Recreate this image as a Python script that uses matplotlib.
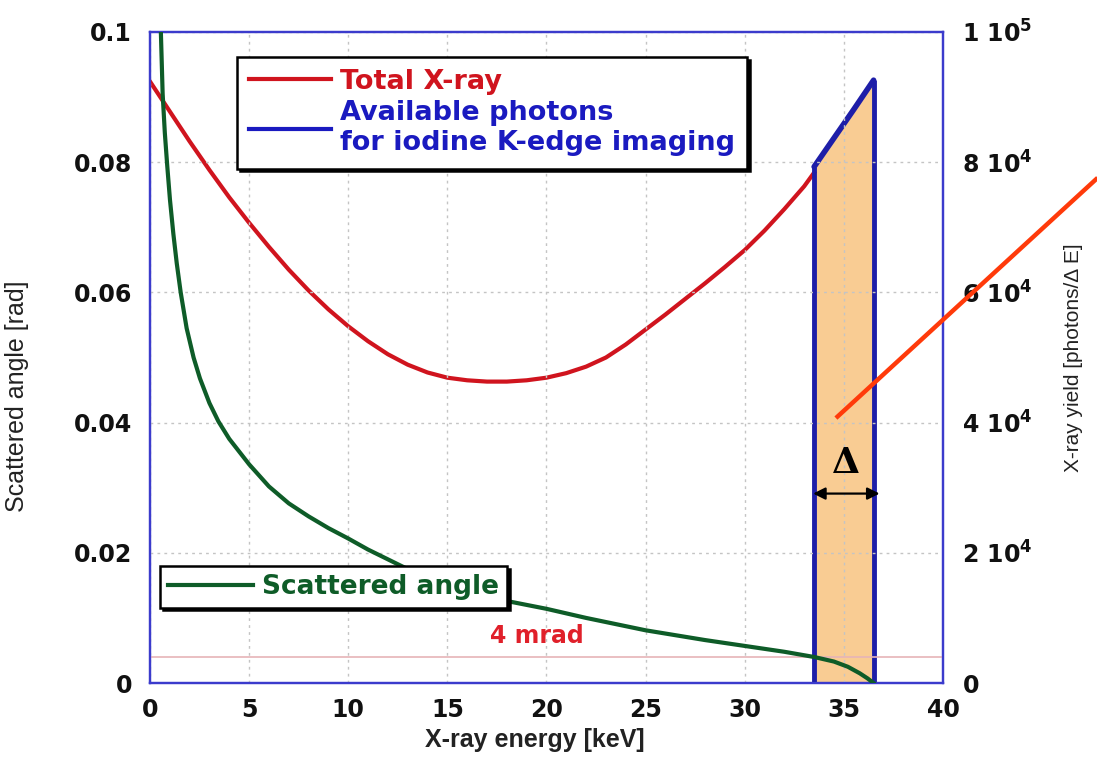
import matplotlib
matplotlib.use("Agg")
import matplotlib.pyplot as plt
from matplotlib.lines import Line2D

plt.rcParams['mathtext.fontset'] = 'custom'
plt.rcParams['mathtext.rm'] = 'DejaVu Sans:bold'
plt.rcParams['mathtext.bf'] = 'DejaVu Sans:bold'

# total X-ray yield (photons / dE) vs energy
energy_total = [0, 1, 2, 3, 4, 5, 6, 7, 8, 9, 10, 11, 12, 13, 14, 15, 16, 17, 18, 19,
                20, 21, 22, 23, 24, 25, 26, 27, 28, 29, 30, 31, 32, 33, 33.5]
yield_total = [92400, 87800, 83200, 78800, 74600, 70700, 67000, 63500, 60300, 57400,
               54800, 52500, 50500, 48900, 47700, 46900, 46500, 46300, 46300, 46500,
               46900, 47600, 48600, 50000, 52000, 54300, 56600, 59000, 61400, 63900,
               66500, 69500, 72800, 76300, 78400]

# photons usable for iodine K-edge imaging
energy_kedge = [33.5, 34.5, 35.5, 36.5]
yield_kedge = [79300, 83700, 88100, 92600]

# scattered angle [rad] vs energy
energy_angle = [0.48, 0.55, 0.64, 0.75, 0.87, 1.01, 1.18, 1.35, 1.55, 1.85, 2.2, 2.52,
                3.0, 3.45, 4.0, 5.0, 6.0, 7.0, 8.0, 9.0, 10, 11, 12, 13, 14, 15, 16,
                17, 18, 19, 20, 22, 25, 28, 30, 32, 33.5, 34.5, 35.2, 35.8, 36.2, 36.5]
angle = [0.108, 0.100, 0.0905, 0.0845, 0.0795, 0.0742, 0.0690, 0.0645, 0.0600, 0.0545,
         0.0500, 0.0468, 0.0430, 0.0402, 0.0375, 0.0336, 0.0302, 0.0276, 0.0256,
         0.0238, 0.0222, 0.0205, 0.0190, 0.0175, 0.0162, 0.0150, 0.0140, 0.0132,
         0.0126, 0.0120, 0.0114, 0.0100, 0.0081, 0.0066, 0.0057, 0.0048, 0.0040,
         0.0033, 0.0025, 0.0015, 0.0007, 0.0]

limit_angle = 0.004
x_ticks = [0, 5, 10, 15, 20, 25, 30, 35, 40]
left_ticks = [0, 0.02, 0.04, 0.06, 0.08, 0.1]
left_labels = ['0', '0.02', '0.04', '0.06', '0.08', '0.1']
right_ticks = [0, 20000, 40000, 60000, 80000, 100000]
right_labels = ['0', '2 10$^{4}$', '4 10$^{4}$', '6 10$^{4}$', '8 10$^{4}$', '1 10$^{5}$']

RED = '#D0141E'
BLUE = '#1E1EA8'
LEG_BLUE = '#1A1AC0'
GREEN = '#0E5C28'
SPINE = '#3B3BCC'

fig = plt.figure(figsize=(10.97, 7.58), dpi=100)
ax = fig.add_axes([0.1367, 0.0989, 0.7229, 0.8589])
ax2 = ax.twinx()
ax.set_zorder(ax2.get_zorder() + 1)
ax.patch.set_visible(False)

# right axis: spectrum
ax2.fill_between(energy_kedge, 0, yield_kedge, color='#F9CC93', lw=0, zorder=1)
ax2.plot(energy_total, yield_total, color=RED, lw=3.0, zorder=3)
ax2.plot(energy_kedge, yield_kedge, color=BLUE, lw=4.0, solid_capstyle='round', zorder=4)
ax2.vlines([energy_kedge[0], energy_kedge[-1]], 0, [yield_kedge[0], yield_kedge[-1]],
           color=BLUE, lw=3.5, zorder=4)
ax2.set_ylim(0, 100000)
ax2.set_yticks(right_ticks)
ax2.set_yticklabels(right_labels)

# left axis: scattered angle
ax.grid(True, color='#C4C4C4', ls=(0, (2, 3)), lw=1.0)
ax.set_axisbelow(True)
ax.axhline(limit_angle, color='#E6B4B8', lw=1.2, zorder=1)
ax.plot(energy_angle, angle, color=GREEN, lw=3.0, zorder=3)
ax.set_xlim(0, 40)
ax.set_ylim(0, 0.1)
ax.set_xticks(x_ticks)
ax.set_yticks(left_ticks)
ax.set_yticklabels(left_labels)

for a in (ax, ax2):
    for s in a.spines.values():
        s.set_color(SPINE)
        s.set_linewidth(1.6)
    a.tick_params(length=0, labelsize=17)
    for lab in a.get_xticklabels() + a.get_yticklabels():
        lab.set_fontweight('bold')
        lab.set_color('#111111')
ax.tick_params(axis='x', pad=11)
ax.tick_params(axis='y', pad=13)
ax2.tick_params(axis='y', pad=14)

ax.set_xlabel('X-ray energy [keV]', fontsize=18, family='Liberation Sans',
              fontweight='bold', color='#222222')
ax.xaxis.set_label_coords(0.485, -0.069)
ax.set_ylabel('Scattered angle [rad]', fontsize=18, family='Liberation Sans',
              color='#222222')
ax.yaxis.set_label_coords(-0.152, 0.44)
ax2.set_ylabel('X-ray yield [photons/\u0394 E]', fontsize=15,
               family='Liberation Sans', color='#222222')
ax2.yaxis.set_label_coords(1.152, 0.5)

# legends
h1 = [Line2D([], [], color=RED, lw=3.0), Line2D([], [], color=LEG_BLUE, lw=3.0)]
leg1 = ax.legend(h1, ['Total X-ray', 'Available photons\nfor iodine K-edge imaging'],
                 loc='upper left', bbox_to_anchor=(0.11, 0.962), borderaxespad=0,
                 fancybox=False, edgecolor='black', framealpha=1,
                 shadow={'color': 'black', 'alpha': 1},
                 prop={'family': 'DejaVu Sans', 'weight': 'bold', 'size': 19.5},
                 labelcolor=[RED, LEG_BLUE], handlelength=3.0, labelspacing=0.2,
                 handletextpad=0.35, borderpad=0.45)
leg1.get_frame().set_linewidth(1.8)
ax.add_artist(leg1)

h2 = [Line2D([], [], color=GREEN, lw=3.0)]
leg2 = ax.legend(h2, ['Scattered angle'], loc='upper left', bbox_to_anchor=(0.013, 0.18),
                 borderaxespad=0, fancybox=False, edgecolor='black', framealpha=1,
                 shadow={'color': 'black', 'alpha': 1},
                 prop={'family': 'DejaVu Sans', 'weight': 'bold', 'size': 19},
                 labelcolor=[GREEN], handlelength=3.2, handletextpad=0.35, borderpad=0.3)
leg2.get_frame().set_linewidth(1.8)

ax.text(19.5, 0.0072, '4 mrad', color='#E0202A', fontsize=17, fontweight='bold',
        family='DejaVu Sans', ha='center', va='center')

# annotation: delta band
ax.annotate('', xy=(33.45, 0.0291), xytext=(36.8, 0.0291),
            arrowprops=dict(arrowstyle='<|-|>', color='black', lw=1.6,
                            mutation_scale=18, shrinkA=0, shrinkB=0), zorder=6)
ax.text(35.1, 0.0338, '\u0394', fontsize=26, family='DejaVu Serif', fontweight='bold',
        ha='center', va='center', zorder=6)
ax.plot([34.6, 47.8], [0.0407, 0.0776], color='#FF3A0A', lw=3.2, clip_on=False,
        solid_capstyle='butt', zorder=7)

fig.savefig('out.png', dpi=100)
